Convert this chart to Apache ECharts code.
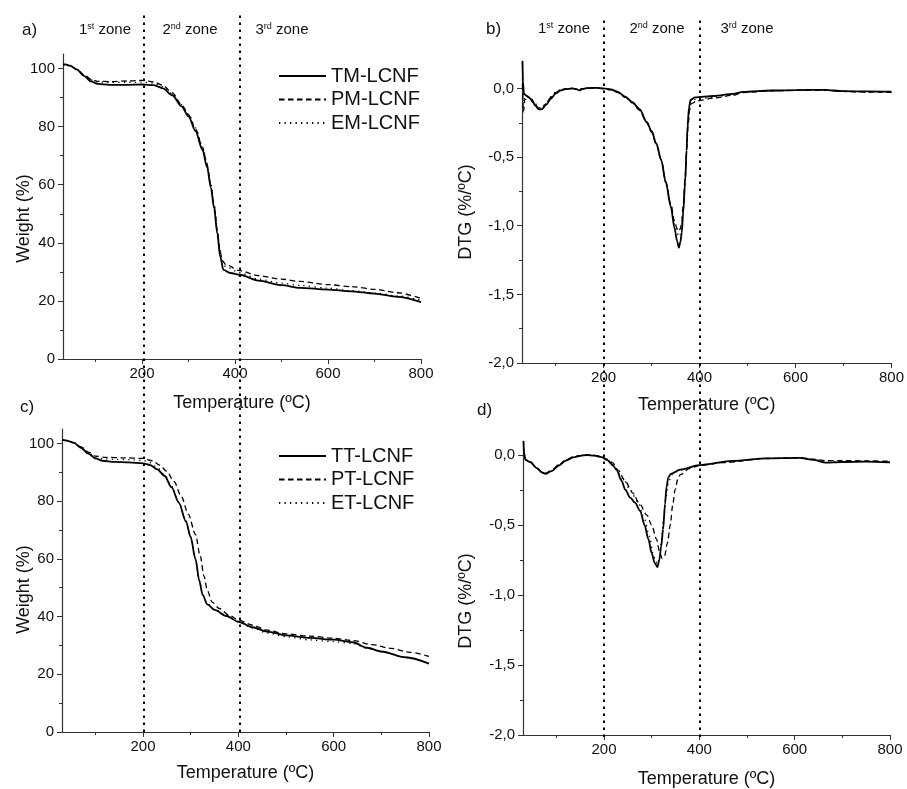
<!DOCTYPE html>
<html><head><meta charset="utf-8">
<script src="https://cdn.jsdelivr.net/npm/echarts@6/dist/echarts.min.js"></script>
<style>html,body{margin:0;padding:0;background:#fff}#c{width:907px;height:789px}</style>
</head><body><div id="c"></div>
<script>
const FONT = 'Liberation Sans, Arial, sans-serif';
const namesTop = ['TM-LCNF', 'PM-LCNF', 'EM-LCNF'];
const namesBottom = ['TT-LCNF', 'PT-LCNF', 'ET-LCNF'];
const xTicks = [200, 400, 600, 800];
const xMinor = [100, 300, 500, 700];
const wTicks = [0, 20, 40, 60, 80, 100];
const wMinor = [10, 30, 50, 70, 90];
const dTicks = [-2, -1.5, -1, -0.5, 0];
const dMinor = [-1.75, -1.25, -0.75, -0.25];
const zoneBoundsLeft = [201, 402];
const zoneBoundsRight = [200, 400];

// Panel a) weight (%) vs temperature
const aTM = [[30,101.3],[35,101.4],[45,101.0],[60,99.6],[75,97.5],[90,95.6],[105,94.7],[130,94.4],[170,94.4],[200,94.5],[225,94.3],[245,93.2],[265,90.8],[285,87.0],[300,83.5],[315,78.5],[330,72],[340,66],[348,59],[355,52],[362,43],[368,35.3],[375,30.7],[390,29.6],[410,29.0],[450,27.0],[500,25.4],[540,24.5],[600,23.9],[650,23.3],[700,22.5],[750,21.4],[800,19.6]];
const aPM = [[30,101.3],[35,101.4],[45,101.0],[60,99.7],[75,97.9],[90,96.3],[105,95.6],[130,95.5],[170,95.7],[200,95.9],[225,95.4],[245,94.2],[265,91.6],[285,87.6],[300,84.1],[315,79.2],[330,72.8],[340,66.8],[348,59.8],[355,52.8],[362,44.2],[367,38],[372,34],[380,32.5],[410,30.4],[450,28.7],[500,27.5],[540,26.7],[600,25.6],[650,24.9],[700,24.0],[750,22.8],[800,20.8]];
const aEM = [[30,101.3],[35,101.4],[45,101.0],[60,99.7],[75,97.8],[90,96.1],[105,95.4],[130,95.2],[170,95.2],[200,95.3],[225,95.0],[245,93.8],[265,91.3],[285,87.6],[300,84.3],[315,79.6],[330,73.2],[340,67.3],[348,60.3],[355,53.2],[362,44.6],[367,38.5],[372,33.2],[380,31.8],[410,29.7],[450,27.5],[500,26.1],[540,25.3],[600,24.4],[650,23.5],[700,22.7],[750,21.7],[800,20.2]];

// Panel b) DTG (%/ºC) vs temperature
const bTM = [[31,0.2],[32,0.05],[34,-0.04],[40,-0.055],[50,-0.08],[58,-0.125],[65,-0.153],[72,-0.15],[80,-0.12],[90,-0.075],[100,-0.038],[110,-0.015],[120,-0.005],[135,0],[143,-0.005],[150,-0.014],[155,-0.004],[165,0.003],[185,0.004],[200,0.0],[215,-0.007],[230,-0.025],[245,-0.06],[260,-0.1],[275,-0.15],[290,-0.245],[300,-0.31],[310,-0.40],[320,-0.52],[330,-0.69],[340,-0.86],[348,-1.02],[353,-1.11],[357,-1.16],[360,-1.12],[363,-1.05],[366,-0.9],[370,-0.68],[373,-0.45],[375,-0.27],[378,-0.14],[381,-0.085],[390,-0.065],[430,-0.055],[470,-0.04],[490,-0.025],[550,-0.015],[600,-0.012],[660,-0.01],[700,-0.02],[750,-0.022],[800,-0.024]];
const bPM = [[31,0.03],[33,-0.17],[36,-0.08],[45,-0.07],[55,-0.11],[65,-0.145],[72,-0.142],[80,-0.11],[90,-0.065],[100,-0.03],[110,-0.01],[120,-0.003],[135,0],[150,-0.006],[165,0.002],[185,0.003],[200,-0.002],[215,-0.01],[230,-0.03],[245,-0.065],[260,-0.105],[275,-0.16],[290,-0.25],[300,-0.32],[310,-0.41],[320,-0.52],[330,-0.68],[340,-0.84],[348,-0.97],[353,-1.02],[357,-1.04],[360,-1.02],[363,-0.97],[366,-0.85],[370,-0.65],[373,-0.45],[376,-0.28],[379,-0.16],[383,-0.11],[395,-0.09],[430,-0.07],[470,-0.05],[490,-0.03],[550,-0.018],[600,-0.014],[660,-0.013],[700,-0.022],[750,-0.026],[800,-0.028]];
const bEM = [[31,0.08],[33,-0.1],[36,-0.06],[45,-0.065],[55,-0.1],[65,-0.14],[72,-0.14],[80,-0.105],[90,-0.06],[100,-0.028],[110,-0.01],[120,-0.003],[135,0],[150,-0.008],[165,0.002],[185,0.003],[200,-0.001],[215,-0.009],[230,-0.028],[245,-0.063],[260,-0.103],[275,-0.155],[290,-0.248],[300,-0.315],[310,-0.405],[320,-0.52],[330,-0.685],[340,-0.85],[348,-0.99],[353,-1.05],[357,-1.08],[360,-1.06],[363,-1.0],[366,-0.87],[370,-0.66],[373,-0.45],[376,-0.27],[379,-0.15],[382,-0.1],[392,-0.078],[430,-0.062],[470,-0.045],[490,-0.028],[550,-0.016],[600,-0.013],[660,-0.012],[700,-0.021],[750,-0.024],[800,-0.026]];

// Panel c) weight (%) vs temperature
const cTT = [[30,101.3],[40,101.0],[55,100.2],[70,98.5],[85,96.5],[100,94.8],[115,94.0],[140,93.6],[170,93.4],[200,93.1],[215,92.5],[230,91.0],[245,88.8],[260,84.8],[275,79.5],[290,73.0],[300,67.5],[310,60],[318,52.5],[325,47.5],[335,44.2],[350,42.3],[375,40.2],[400,38.2],[430,36.3],[460,34.8],[500,33.5],[550,32.6],[600,32.0],[640,31.1],[670,29.2],[700,27.9],[750,25.9],[800,23.7]];
const cPT = [[30,101.3],[40,101.0],[55,100.3],[70,98.8],[85,97.0],[100,95.6],[120,95.2],[160,95.0],[200,94.8],[220,94.0],[235,92.5],[250,90.3],[265,86.8],[280,81.8],[295,75.5],[310,68.5],[320,61],[328,54],[335,49],[345,45],[360,42.8],[380,40.5],[400,38.8],[430,37],[460,35.3],[500,34],[550,33.2],[600,32.5],[640,31.7],[680,30.3],[720,29],[760,27.6],[800,26.2]];
const cET = [[30,101.3],[40,101.0],[55,100.3],[70,98.7],[85,96.8],[100,95.3],[115,94.7],[140,94.5],[170,94.4],[200,94.1],[215,93.3],[230,91.6],[245,89.2],[260,85.2],[275,79.8],[290,73.2],[300,67.6],[310,60],[318,52.6],[325,47.6],[335,44.4],[350,42.5],[375,40.3],[400,38.1],[430,36.0],[460,34.3],[500,33.0],[550,31.9],[600,31.3],[640,30.7],[670,29.0],[700,27.8],[750,25.9],[800,23.8]];

// Panel d) DTG (%/ºC) vs temperature
const dTT = [[31,0.1],[32,0.02],[35,-0.035],[45,-0.05],[59,-0.094],[70,-0.125],[77,-0.135],[90,-0.115],[105,-0.075],[120,-0.04],[136,-0.017],[150,-0.006],[164,0],[180,-0.004],[195,-0.015],[206,-0.035],[218,-0.07],[227,-0.11],[236,-0.18],[245,-0.25],[255,-0.305],[265,-0.34],[276,-0.4],[285,-0.5],[293,-0.6],[300,-0.7],[306,-0.77],[312,-0.80],[316,-0.75],[320,-0.65],[324,-0.53],[328,-0.35],[331,-0.23],[335,-0.16],[340,-0.135],[360,-0.105],[400,-0.072],[470,-0.042],[540,-0.024],[610,-0.02],[640,-0.035],[665,-0.055],[700,-0.05],[750,-0.047],[800,-0.052]];
const dPT = [[31,0.05],[33,0.0],[36,-0.035],[45,-0.05],[59,-0.094],[70,-0.122],[77,-0.13],[90,-0.11],[105,-0.07],[120,-0.035],[136,-0.013],[150,-0.004],[164,0.001],[180,-0.002],[195,-0.012],[206,-0.03],[218,-0.055],[230,-0.11],[245,-0.19],[260,-0.27],[275,-0.35],[290,-0.43],[300,-0.5],[310,-0.6],[317,-0.7],[322,-0.74],[327,-0.72],[333,-0.63],[339,-0.5],[344,-0.36],[349,-0.25],[355,-0.17],[360,-0.14],[380,-0.095],[400,-0.075],[450,-0.055],[540,-0.025],[610,-0.02],[640,-0.03],[665,-0.04],[700,-0.04],[750,-0.042],[800,-0.045]];
const dET = [[31,0.08],[32,0.01],[35,-0.035],[45,-0.05],[59,-0.092],[70,-0.12],[77,-0.13],[90,-0.11],[105,-0.07],[120,-0.036],[136,-0.014],[150,-0.004],[164,0.001],[180,-0.003],[195,-0.014],[206,-0.03],[220,-0.08],[240,-0.17],[255,-0.25],[270,-0.33],[285,-0.46],[295,-0.58],[303,-0.7],[308,-0.76],[312,-0.78],[316,-0.74],[320,-0.62],[325,-0.46],[330,-0.3],[335,-0.2],[342,-0.14],[360,-0.105],[400,-0.074],[470,-0.044],[540,-0.025],[610,-0.021],[640,-0.033],[665,-0.05],[700,-0.048],[750,-0.046],[800,-0.05]];

const styles = [
  {type: 'solid', width: 1.8},
  {type: [5.5, 3.5], width: 1.3},
  {type: [1.3, 4.2], width: 1.3}
];
const axisColor = '#333';
const txt = '#111';
const fmtComma = v => v.toFixed(1).replace('.', ',');

function xMain(g, gap) {
  return {type: 'value', gridIndex: g, position: 'bottom', min: 30, max: 800,
    name: 'Temperature (ºC)', nameLocation: 'middle', nameGap: gap, nameMoveOverlap: false,
    nameTextStyle: {fontSize: 18, color: txt, fontFamily: FONT},
    axisLine: {show: true, onZero: false, lineStyle: {color: axisColor, width: 1.2}},
    axisTick: {show: true, customValues: xTicks, length: 5, lineStyle: {color: axisColor, width: 1}},
    axisLabel: {customValues: xTicks, fontSize: 15, color: txt, fontFamily: FONT, margin: 7},
    splitLine: {show: false}};
}
function xMin(g) {
  return {type: 'value', gridIndex: g, position: 'bottom', min: 30, max: 800,
    axisLine: {show: false, onZero: false},
    axisTick: {show: true, customValues: xMinor, length: 3, lineStyle: {color: axisColor, width: 1}},
    axisLabel: {show: false}, splitLine: {show: false}};
}
function yMain(g, min, max, ticks, name, gap, shift, fmt) {
  return {type: 'value', gridIndex: g, position: 'left', min, max,
    name, nameLocation: 'middle', nameGap: gap, nameMoveOverlap: false,
    nameTextStyle: {fontSize: 18, color: txt, fontFamily: FONT, padding: [0, shift, 0, 0]},
    axisLine: {show: true, onZero: false, lineStyle: {color: axisColor, width: 1.2}},
    axisTick: {show: true, customValues: ticks, length: 5, lineStyle: {color: axisColor, width: 1}},
    axisLabel: {customValues: ticks, fontSize: 15, color: txt, fontFamily: FONT, margin: 8, formatter: fmt},
    splitLine: {show: false}};
}
function yMin(g, min, max, ticks) {
  return {type: 'value', gridIndex: g, position: 'left', min, max,
    axisLine: {show: false, onZero: false},
    axisTick: {show: true, customValues: ticks, length: 3, lineStyle: {color: axisColor, width: 1}},
    axisLabel: {show: false}, splitLine: {show: false}};
}
function lines(names, datas, axisIdx) {
  return names.map((n, i) => ({
    name: n, type: 'line', xAxisIndex: axisIdx, yAxisIndex: axisIdx,
    data: datas[i], symbol: 'none', smooth: 0.3, smoothMonotone: 'x',
    lineStyle: Object.assign({color: '#000'}, styles[i]), itemStyle: {color: '#000'},
    z: 3 - i, silent: true, animation: false
  }));
}
function zoneLines(bounds, axisIdx) {
  return {type: 'line', xAxisIndex: axisIdx, yAxisIndex: axisIdx, data: [], symbol: 'none', silent: true,
    markLine: {symbol: 'none', silent: true, animation: false, label: {show: false},
      lineStyle: {type: [2.5, 4.5], width: 2, color: '#000'},
      data: bounds.map(v => ({xAxis: v}))}};
}
function zoneText(x, y, num, sup) {
  return {type: 'text', x, y, style: {
    text: '{n|' + num + '}{s|' + sup + '}{n| zone}',
    align: 'center', verticalAlign: 'middle',
    rich: {n: {fontSize: 15, fontFamily: FONT, fill: txt},
           s: {fontSize: 9, fontFamily: FONT, fill: txt, verticalAlign: 'top'}}}};
}
function panelLabel(x, y, t) {
  return {type: 'text', x, y, style: {text: t, fontSize: 17, fontFamily: FONT, fill: txt, verticalAlign: 'middle'}};
}
function legend(names, top) {
  return {data: names, orient: 'vertical', left: 273, top, itemWidth: 47, itemHeight: 12, itemGap: 3.5,
    selectedMode: false, itemStyle: {opacity: 0},
    textStyle: {fontSize: 20, fontFamily: FONT, color: txt}};
}

const option = {
  backgroundColor: '#fff',
  animation: false,
  grid: [
    {left: 63, top: 54, width: 358, height: 305},
    {left: 522, top: 61, width: 374, height: 302},
    {left: 62, top: 429, width: 367, height: 303},
    {left: 523, top: 441, width: 367, height: 296},
    {left: 62, top: 13, width: 367, height: 719},
    {left: 523, top: 17, width: 367, height: 720}
  ],
  xAxis: [
    xMain(0, 35), xMin(0), xMain(1, 33), xMin(1), xMain(2, 32), xMin(2), xMain(3, 35), xMin(3),
    {type: 'value', gridIndex: 4, min: 30, max: 800, show: false},
    {type: 'value', gridIndex: 5, min: 30, max: 800, show: false}
  ],
  yAxis: [
    yMain(0, 0, 105, wTicks, 'Weight (%)', 30, 24), yMin(0, 0, 105, wMinor),
    yMain(1, -2, 0.2, dTicks, 'DTG (%/ºC)', 47, 0, fmtComma), yMin(1, -2, 0.2, dMinor),
    yMain(2, 0, 105, wTicks, 'Weight (%)', 29, 18), yMin(2, 0, 105, wMinor),
    yMain(3, -2, 0.1, dTicks, 'DTG (%/ºC)', 48, 26, fmtComma), yMin(3, -2, 0.1, dMinor),
    {type: 'value', gridIndex: 4, min: 0, max: 1, show: false},
    {type: 'value', gridIndex: 5, min: 0, max: 1, show: false}
  ],
  legend: [legend(namesTop, 61), legend(namesBottom, 441)],
  series: [
    ...lines(namesTop, [aTM, aPM, aEM], 0),
    ...lines(namesTop, [bTM, bPM, bEM], 2),
    ...lines(namesBottom, [cTT, cPT, cET], 4),
    ...lines(namesBottom, [dTT, dPT, dET], 6),
    zoneLines(zoneBoundsLeft, 8),
    zoneLines(zoneBoundsRight, 9)
  ],
  graphic: [
    panelLabel(22, 30, 'a)'), panelLabel(486, 29, 'b)'), panelLabel(20, 407, 'c)'), panelLabel(477, 410, 'd)'),
    zoneText(105, 30, '1', 'st'), zoneText(190, 30, '2', 'nd'), zoneText(282, 30, '3', 'rd'),
    zoneText(564, 29, '1', 'st'), zoneText(657, 29, '2', 'nd'), zoneText(747, 29, '3', 'rd')
  ]
};
const chart = echarts.init(document.getElementById('c'), null, {renderer: 'canvas'});
chart.setOption(option);
</script></body></html>
